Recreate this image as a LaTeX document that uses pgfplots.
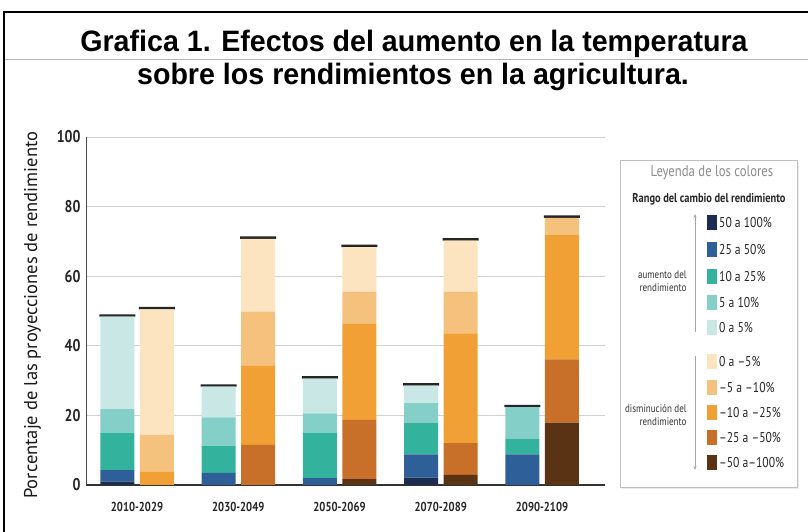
\documentclass[border=0pt]{standalone}
\usepackage{pgfplots}
\pgfplotsset{compat=1.18}
\usepackage{fontspec}
\setmainfont{Liberation Sans}
\newfontfamily\titlefont[FakeStretch=0.97]{Liberation Sans}
\newfontfamily\cond[FakeStretch=0.82]{PT Sans}
\newfontfamily\ylab{PT Sans}
\usetikzlibrary{arrows.meta}
\definecolor{iA}{HTML}{1D2D50}
\definecolor{iB}{HTML}{2F5F98}
\definecolor{iC}{HTML}{33B39E}
\definecolor{iD}{HTML}{84CFC8}
\definecolor{iE}{HTML}{C8E7E5}
\definecolor{dA}{HTML}{FDE4C0}
\definecolor{dB}{HTML}{F5C27E}
\definecolor{dC}{HTML}{F0A035}
\definecolor{dD}{HTML}{C8702A}
\definecolor{dE}{HTML}{5A3214}
% positions: A bars (increase) at i-0.195, B bars (decrease) at i+0.195
\pgfplotstableread{
x     nA   nB   nC    nD   nE    dE    dD    dC    dB    dA    blk
-0.195 1.0 3.3  10.6  6.9  26.55 0     0     0     0     0     0.7
0.195  0   0    0     0    0     0     0     3.8   10.6  36.05 0.7
0.805  0   3.5  7.7   8.2  8.85  0     0     0     0     0     0.7
1.195  0   0    0     0    0     0     11.5  22.7  15.6  20.95 0.7
1.805  0   2.0  12.9  5.7  9.95  0     0     0     0     0     0.7
2.195  0   0    0     0    0     1.7   17.0  27.6  9.3   12.75 0.7
2.805  2.1 6.7  9.1   5.6  5.05  0     0     0     0     0     0.7
3.195  0   0    0     0    0     2.9   9.1   31.6  12.0  14.65 0.7
3.805  0   8.8  4.5   9.05 0     0     0     0     0     0     0.7
4.195  0   0    0     0    0     17.9  18.2  35.7  4.95  0     0.7
}\data
\begin{document}
\begin{tikzpicture}[x=1pt,y=1pt]
\useasboundingbox (0,0) rectangle (808,532);
\fill[white] (0,0) rectangle (808,532);
\draw[line width=2pt] (808,520) -- (4,520) -- (4,0);
\draw[black!30, line width=0.7pt] (5,473) -- (808,473);
\node[font=\titlefont\bfseries\fontsize{29.5}{33}\selectfont, anchor=base] at (414,480) {Grafica 1. Efectos del aumento en la temperatura};
\node[font=\titlefont\bfseries\fontsize{29.5}{33}\selectfont, anchor=base] at (413,447) {sobre los rendimientos en la agricultura.};
\begin{axis}[
  at={(86pt,47pt)}, anchor=south west,
  scale only axis, width=519pt, height=348pt,
  ybar stacked, bar width=34pt,
  xmin=-0.504, xmax=4.622, ymin=0, ymax=100,
  xtick={0,1,2,3,4},
  xticklabels={2010-2029,2030-2049,2050-2069,2070-2089,2090-2109},
  ytick={0,20,40,60,80,100},
  major tick length=0pt,
  ymajorgrids, grid style={black!18, line width=0.6pt},
  axis x line*=bottom, axis y line*=left,
  x axis line style={black!80, line width=1.2pt, -},
  y axis line style={black!70, line width=0.9pt, -},
  xticklabel style={font=\cond\bfseries\fontsize{13}{13}\selectfont, text=black!85, yshift=-14pt},
  yticklabel style={font=\cond\bfseries\fontsize{17}{17}\selectfont, text=black!85, xshift=-2pt},
  /pgf/number format/assume math mode=true,
  ylabel={Porcentaje de las proyecciones de rendimiento},
  ylabel style={font=\ylab\fontsize{18.5}{18.5}\selectfont, text=black!90, at={(axis description cs:-0.086,0.488)}, anchor=south, inner sep=0pt},
  every axis plot/.append style={draw=none},
]
\addplot[fill=iA] table[x=x,y=nA]{\data};
\addplot[fill=iB] table[x=x,y=nB]{\data};
\addplot[fill=iC] table[x=x,y=nC]{\data};
\addplot[fill=iD] table[x=x,y=nD]{\data};
\addplot[fill=iE] table[x=x,y=nE]{\data};
\addplot[fill=dE] table[x=x,y=dE]{\data};
\addplot[fill=dD] table[x=x,y=dD]{\data};
\addplot[fill=dC] table[x=x,y=dC]{\data};
\addplot[fill=dB] table[x=x,y=dB]{\data};
\addplot[fill=dA] table[x=x,y=dA]{\data};
\addplot[fill=black!85, bar width=36pt] table[x=x,y=blk]{\data};
\end{axis}
% legend box
\fill[black!8] (622,43) rectangle (799,370);
\draw[black!25, fill=white, line width=0.6pt] (620,45) rectangle (797,372);
\node[font=\cond\fontsize{15.5}{16}\selectfont, text=black!45] at (712,359) {Leyenda de los colores};
\node[font=\cond\bfseries\fontsize{12.7}{13}\selectfont, text=black!85] at (709,333) {Rango del cambio del rendimiento};
\draw[black!35, line width=0.5pt, -{Stealth[length=4pt,width=3pt]}] (695,200) -- (695,318);
\draw[black!35, line width=0.5pt, -{Stealth[length=4pt,width=3pt]}] (695,176) -- (695,62);
\foreach \c/\y/\t in {iA/309/50 a 100\%, iB/282/25 a 50\%, iC/255/10 a 25\%, iD/229/5 a 10\%, iE/204/0 a 5\%,
  dA/170/0 a –5\%, dB/144/–5 a –10\%, dC/119/–10 a –25\%, dD/94/–25 a –50\%, dE/69/–50 a–100\%}{
  \fill[\c] (707,\y-7.5) rectangle (717,\y+7.5);
  \node[font=\cond\fontsize{14.2}{15}\selectfont, text=black!85, anchor=west, inner sep=0pt] at (719,\y) {\t};
}
\node[font=\cond\fontsize{11}{13}\selectfont, text=black!80, align=right, anchor=east] at (690,251) {aumento del\\rendimiento};
\node[font=\cond\fontsize{11}{13}\selectfont, text=black!80, align=right, anchor=east] at (690,117) {disminución del\\rendimiento};
\end{tikzpicture}
\end{document}
